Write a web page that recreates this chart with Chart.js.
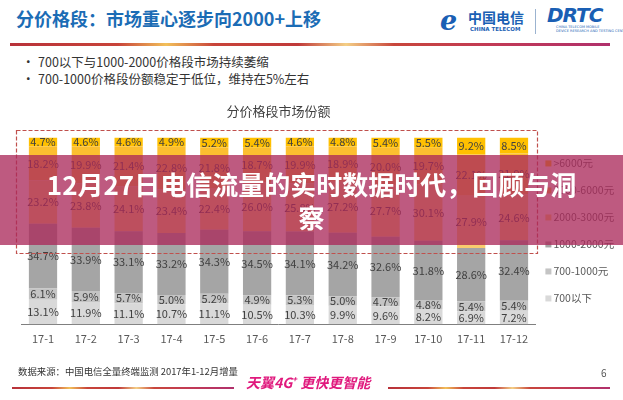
<!DOCTYPE html>
<html>
<head>
<meta charset="utf-8">
<script src="https://cdn.jsdelivr.net/npm/chart.js@4.4.1/dist/chart.umd.min.js"></script>
<style>
  html, body { margin: 0; padding: 0; background: #fff; }
  body {
    width: 623px; height: 400px; position: relative; overflow: hidden;
    font-family: "Noto Sans CJK SC", "Noto Sans", sans-serif;
  }
  .abs { position: absolute; white-space: nowrap; }
  #headTitle { left: 16px; top: 4px; font-size: 18px; font-weight: bold; color: #1b6cb5; line-height: 28px; }
  .rule {
    height: 3px;
    background: linear-gradient(90deg, #b8323a 0%, #c8443a 18%, #f2c05a 26%, #c8443a 34%, #c03a3a 48%,
      #f4cf86 56%, #c8463c 64%, #c23a55 80%, #b0306c 100%);
  }
  #rule1 { left: 10px; top: 43px; width: 600px; }
  .bullet { left: 22px; font-size: 12.5px; color: #333; line-height: 18px; }
  .bullet span { display: inline-block; width: 16px; }
  #chartBox { left: 0; top: 100px; width: 623px; height: 270px; }
  #overlay {
    left: 0; top: 155px; width: 623px; height: 90px;
    background: rgba(170, 40, 90, 0.77);
    color: #fff; font-weight: bold; font-size: 26px; line-height: 33px;
    text-align: center; white-space: normal;
  }
  #overlay div { position: absolute; left: 0; top: 12px; width: 623px; }
  #source { left: 18px; top: 364px; font-size: 9.4px; color: #333; }
  #slogan { left: 246px; top: 372px; font-size: 14px; font-weight: bold; font-style: italic; color: #e0197d; }
  #slogan sup { font-size: 8px; }
  #pageNo { left: 601px; top: 365px; font-size: 10px; color: #555; }
  #rule2 { left: 12px; top: 387px; width: 222px; height: 2px; }
  #rule3 { left: 388px; top: 387px; width: 222px; height: 2px; }
</style>
</head>
<body>
<div id="headTitle" class="abs">分价格段：市场重心逐步向2000+上移</div>

<!-- logos -->
<div class="abs" style="left:440px;top:5px;font:italic bold 27px 'DejaVu Serif',serif;color:#1a5fb4;">e</div>
<div class="abs" style="left:468px;top:7px;font-size:14px;font-weight:bold;color:#1a5fb4;">中国电信</div>
<div class="abs" style="left:470px;top:26px;font-size:5.5px;font-weight:bold;color:#1a5fb4;font-family:'DejaVu Sans';">CHINA TELECOM</div>
<div class="abs" style="left:535px;top:9px;width:1px;height:25px;background:#9bb3d0;"></div>
<div class="abs" style="left:547px;top:3px;font:italic bold 20px 'DejaVu Sans',sans-serif;color:#1a5fb4;letter-spacing:-1px;">DRTC</div>
<div class="abs" style="left:556px;top:25px;font-size:3.5px;color:#1a5fb4;font-family:'DejaVu Sans';line-height:4px;">CHINA TELECOM MOBILE<br>DEVICE RESEARCH AND TESTING CENTER</div>

<div id="rule1" class="abs rule"></div>
<div class="abs bullet" style="top:53px;"><span>•</span>700以下与1000-2000价格段市场持续萎缩</div>
<div class="abs bullet" style="top:70px;"><span>•</span>700-1000价格段份额稳定于低位，维持在5%左右</div>

<div id="chartBox" class="abs"><canvas id="chart"></canvas></div>

<svg class="abs" style="left:0;top:0;" width="623" height="400">
  <rect x="16.5" y="130.5" width="521" height="123" fill="none" stroke="#c0504d" stroke-width="1.2" stroke-dasharray="4 2"/>
</svg>

<div id="overlay" class="abs"><div>12月27日电信流量的实时数据时代，回顾与洞<br>察</div></div>

<div id="source" class="abs">数据来源：中国电信全量终端监测 2017年1-12月增量</div>
<div id="slogan" class="abs">天翼4G<sup>+</sup> 更快更智能</div>
<div id="pageNo" class="abs">6</div>
<div id="rule2" class="abs rule"></div>
<div id="rule3" class="abs rule"></div>

<script>
// months on the x axis
const months = ['17-1', '17-2', '17-3', '17-4', '17-5', '17-6', '17-7', '17-8', '17-9', '17-10', '17-11', '17-12'];

// share per price band (%), bottom to top
const below700 = [13.1, 11.9, 11.1, 10.7, 11.1, 10.5, 10.3, 9.9, 9.6, 8.2, 6.9, 7.2];
const band700to1000 = [6.1, 5.9, 5.7, 5.0, 5.2, 4.9, 5.3, 5.0, 4.7, 4.8, 5.4, 5.4];
const band1000to2000 = [34.7, 33.9, 33.1, 33.2, 34.3, 34.5, 34.1, 34.2, 32.6, 31.8, 28.6, 32.4];
const band2000to3000 = [23.2, 23.8, 24.1, 23.4, 22.4, 26.0, 25.8, 27.2, 27.7, 30.1, 27.9, 24.6];
const band3000to6000 = [18.2, 19.9, 21.4, 22.8, 21.8, 18.7, 19.9, 18.9, 20.0, 19.7, 22.1, 21.9];
const above6000 = [4.7, 4.6, 4.6, 4.9, 5.2, 5.4, 4.6, 4.8, 5.4, 5.5, 9.2, 8.5];

const seriesNames = ['700以下', '700-1000元', '1000-2000元', '2000-3000元', '3000-6000元', '>6000元'];
const seriesData = [below700, band700to1000, band1000to2000, band2000to3000, band3000to6000, above6000];
const seriesColors = ['#d9d9d9', '#c4c4c4', '#a5a5a5', '#f9cd6e', '#fcbf30', '#ffc000'];

const FONT = '"Noto Sans CJK SC", "Noto Sans", sans-serif';

// value labels in the middle of each segment
const segmentLabels = {
  id: 'segmentLabels',
  afterDatasetsDraw(chart) {
    const ctx = chart.ctx;
    ctx.save();
    ctx.font = '11px ' + FONT;
    ctx.fillStyle = '#404040';
    ctx.textAlign = 'center';
    ctx.textBaseline = 'middle';
    chart.data.datasets.forEach((ds, i) => {
      chart.getDatasetMeta(i).data.forEach((bar, j) => {
        ctx.fillText(ds.data[j].toFixed(1) + '%', bar.x, (bar.y + bar.base) / 2);
      });
    });
    ctx.restore();
  }
};

// vertical legend on the right, top item = top segment
const sideLegend = {
  id: 'sideLegend',
  afterDraw(chart) {
    const ctx = chart.ctx;
    const area = chart.chartArea;
    const gap = 27;
    const n = chart.data.datasets.length;
    const startY = (area.top + area.bottom) / 2 - gap * (n - 1) / 2;
    ctx.save();
    ctx.font = '10.5px ' + FONT;
    ctx.textBaseline = 'middle';
    ctx.textAlign = 'left';
    chart.data.datasets.slice().reverse().forEach((ds, k) => {
      const y = startY + k * gap;
      ctx.fillStyle = ds.backgroundColor;
      ctx.fillRect(area.right + 10, y - 3, 6, 6);
      ctx.fillStyle = '#595959';
      ctx.fillText(ds.label, area.right + 18, y);
    });
    ctx.restore();
  }
};

new Chart(document.getElementById('chart'), {
  type: 'bar',
  data: {
    labels: months,
    datasets: seriesData.map((d, i) => ({
      label: seriesNames[i],
      data: d,
      backgroundColor: seriesColors[i],
      borderWidth: 0,
      categoryPercentage: 1,
      barPercentage: 0.66
    }))
  },
  options: {
    responsive: true,
    maintainAspectRatio: false,
    animation: false,
    layout: { padding: { left: 21.6, right: 87.6, top: 0, bottom: 16.5 } },
    plugins: {
      legend: { display: false },
      tooltip: { enabled: false },
      title: {
        display: true,
        text: '分价格段市场份额',
        color: '#404040',
        font: { family: FONT, size: 13, weight: 'normal' },
        padding: { top: 3, bottom: 19 }
      }
    },
    scales: {
      x: {
        stacked: true,
        grid: { display: false, drawTicks: false },
        border: { display: true, color: '#7f7f7f', width: 1 },
        ticks: { color: '#595959', padding: 8, font: { family: FONT, size: 11 } }
      },
      y: {
        stacked: true,
        display: false,
        min: 0,
        max: 100
      }
    }
  },
  plugins: [segmentLabels, sideLegend]
});
</script>
</body>
</html>
